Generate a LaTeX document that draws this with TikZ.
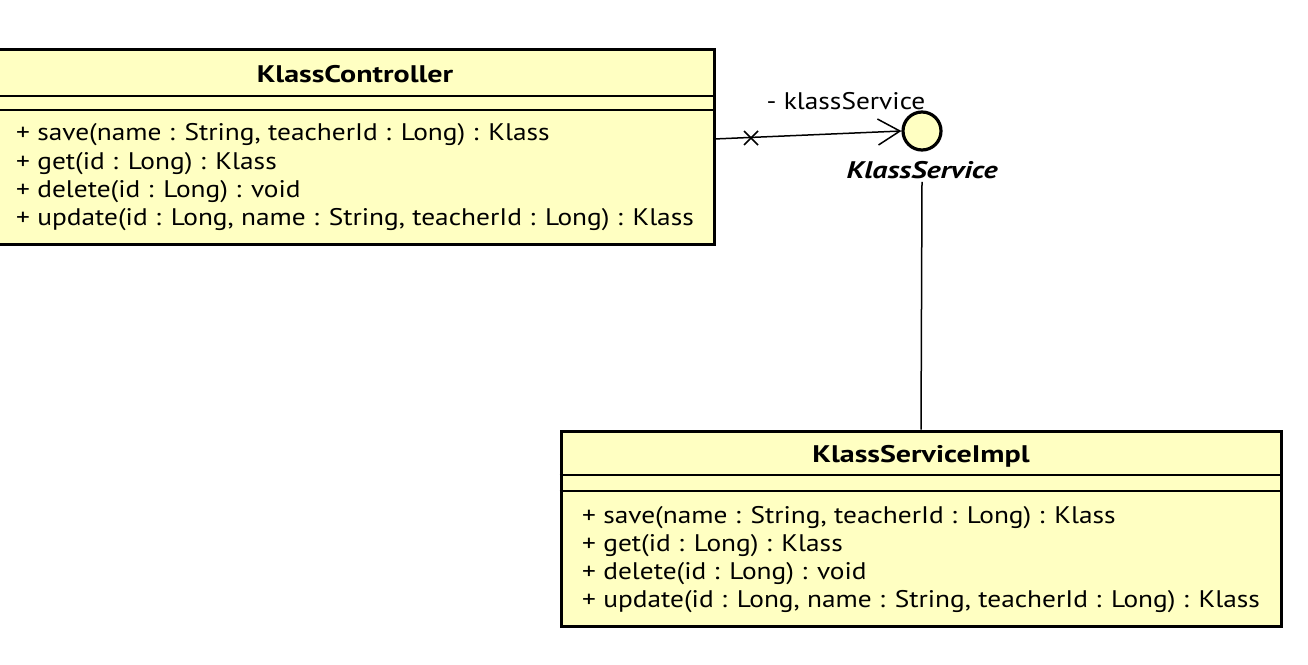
\documentclass[tikz,border=0pt]{standalone}
\usepackage{fontspec}
\setmainfont{PT Sans}[FakeStretch=1.14]
\newfontfamily\titlefont{PT Sans}[FakeStretch=1.25]
\usetikzlibrary{arrows.meta}
\definecolor{umlfill}{HTML}{FFFFC2}
\begin{document}
\begin{tikzpicture}[x=1pt,y=-1pt,
 classbox/.style={draw=black, line width=3pt, fill=umlfill, inner sep=0pt},
 sep/.style={line width=1.5pt},
 meth/.style={anchor=west, inner sep=0pt, font=\fontsize{24}{28}\selectfont},
 ctitle/.style={inner sep=0pt, font=\titlefont\fontsize{24}{28}\selectfont\bfseries},
 conn/.style={line width=1.5pt}]
\useasboundingbox (0,0) rectangle (1308,664);
\fill[white] (0,0) rectangle (1308,664);
% KlassController
\node[classbox, minimum width=718pt, minimum height=195pt] (ctrl) at (355,146.5) {};
\node[ctitle] (ctrlT) at (355,74) {KlassController};
\draw[sep] (ctrl.west |- 0,96) -- (ctrl.east |- 0,96);
\draw[sep] (ctrl.west |- 0,110) -- (ctrl.east |- 0,110);
\node[meth] (c1) at (16,135) {+ save(name : String, teacherId : Long) : Klass};
\node[meth] (c2) at (16,164) {+ get(id : Long) : Klass};
\node[meth] (c3) at (16,192) {+ delete(id : Long) : void};
\node[meth] (c4) at (16,220) {+ update(id : Long, name : String, teacherId : Long) : Klass};
% KlassServiceImpl
\node[classbox, minimum width=720pt, minimum height=195pt] (impl) at (921,528.5) {};
\node[ctitle] (implT) at (921,456) {KlassServiceImpl};
\draw[sep] (impl.west |- 0,475) -- (impl.east |- 0,475);
\draw[sep] (impl.west |- 0,491) -- (impl.east |- 0,491);
\node[meth] (i1) at (582,518) {+ save(name : String, teacherId : Long) : Klass};
\node[meth] (i2) at (582,546) {+ get(id : Long) : Klass};
\node[meth] (i3) at (582,574) {+ delete(id : Long) : void};
\node[meth] (i4) at (582,602) {+ update(id : Long, name : String, teacherId : Long) : Klass};
% Interface
\node[circle, draw, line width=3.2pt, fill=umlfill, minimum size=38pt, inner sep=0pt] (iface) at (922,131) {};
\node[inner sep=3pt, font=\titlefont\fontsize{24}{28}\selectfont\bfseries\itshape] (ifaceL) at (922,170) {KlassService};
\draw[conn] (ifaceL.south) -- (impl.north);
% Association
\coordinate (a0) at (714,139);
\draw[conn, -{Straight Barb[length=22pt,width=26pt,line width=1.5pt]}] (a0) -- (iface.west);
\node[inner sep=0pt, font=\fontsize{24}{28}\selectfont] (assocL) at (846,101) {- klassService};
\coordinate (xm) at (751,138);
\draw[conn] (xm) +(-7,-7) -- +(7,7) (xm) +(-7,7) -- +(7,-7);
\end{tikzpicture}
\end{document}
